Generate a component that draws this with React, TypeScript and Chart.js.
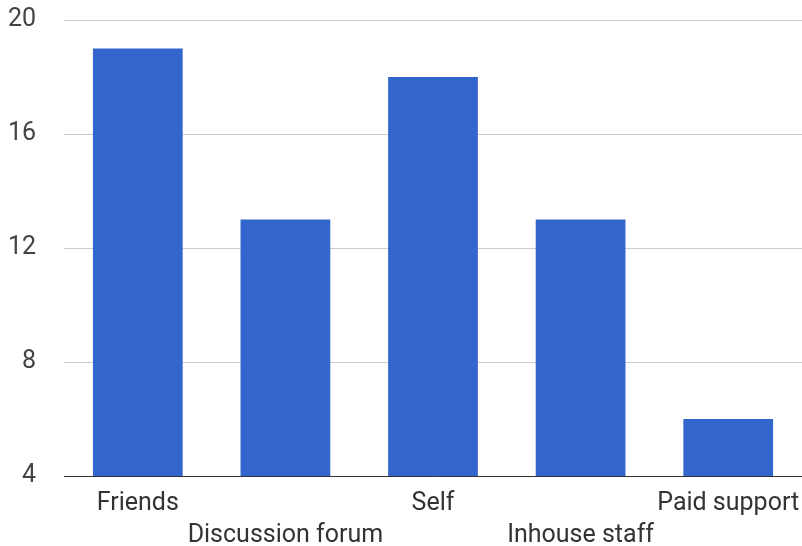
import React, { useEffect, useRef } from "react";
import { Chart, registerables } from "chart.js";

Chart.register(...registerables);

const categories: string[] = ["Friends", "Discussion forum", "Self", "Inhouse staff", "Paid support"];
const values: number[] = [19, 13, 18, 13, 6];
const yTickValues: number[] = [4, 8, 12, 16, 20];

export default function App() {
  const ref = useRef<HTMLCanvasElement | null>(null);

  useEffect(() => {
    if (!ref.current) return;
    const labels = categories.map((c, i) => (i % 2 === 0 ? [c, ""] : ["", c]));
    const chart = new Chart(ref.current, {
      type: "bar",
      data: {
        labels,
        datasets: [
          {
            data: values,
            backgroundColor: "#3366cc",
            borderWidth: 0,
            barPercentage: 0.608,
            categoryPercentage: 1,
          },
        ],
      },
      options: {
        animation: false,
        responsive: false,
        maintainAspectRatio: false,
        layout: { padding: { top: 20, right: -2, bottom: 0, left: 0 } },
        plugins: { legend: { display: false }, tooltip: { enabled: false } },
        scales: {
          x: {
            grid: { display: false, drawTicks: false },
            border: { display: true, color: "#333333", width: 1 },
            ticks: {
              autoSkip: false,
              maxRotation: 0,
              minRotation: 0,
              padding: 12,
              color: "#333333",
              font: { family: "Roboto", size: 25, lineHeight: 32 / 25 },
            },
            afterFit: (axis: any) => {
              axis.height = 70;
              axis.paddingLeft = 0;
              axis.paddingRight = 0;
            },
          },
          y: {
            min: 4,
            max: 20,
            afterBuildTicks: (axis: any) => {
              axis.ticks = yTickValues.map((v) => ({ value: v }));
            },
            grid: { color: "#cccccc", drawTicks: false, lineWidth: 1 },
            border: { display: false },
            ticks: {
              padding: 28,
              color: "#444444",
              font: { family: "Roboto", size: 25, lineHeight: 1.2 },
            },
            afterFit: (axis: any) => {
              axis.width = 64;
              axis.paddingTop = 0;
              axis.paddingBottom = 0;
            },
          },
        },
      },
    });
    return () => chart.destroy();
  }, []);

  return (
    <div style={{ position: "fixed", left: 0, top: 0, width: 802, height: 546, background: "#fff" }}>
      <canvas ref={ref} width={802} height={546} style={{ display: "block", width: 802, height: 546 }} />
    </div>
  );
}
